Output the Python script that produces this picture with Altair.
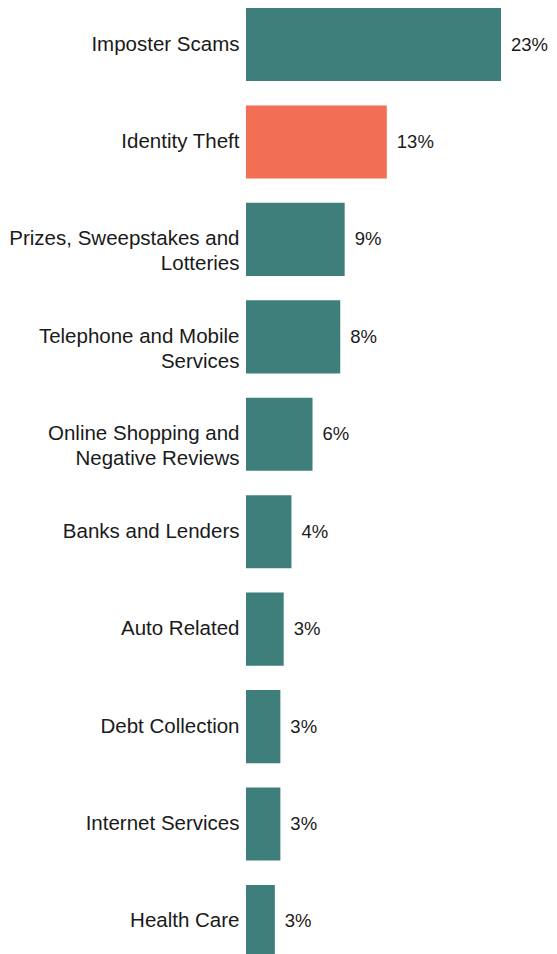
import altair as alt
import pandas as pd

categories = [
    "Imposter Scams",
    "Identity Theft",
    "Prizes, Sweepstakes and|Lotteries",
    "Telephone and Mobile|Services",
    "Online Shopping and|Negative Reviews",
    "Banks and Lenders",
    "Auto Related",
    "Debt Collection",
    "Internet Services",
    "Health Care",
]
values = [23.0, 12.7, 8.9, 8.5, 6.0, 4.1, 3.4, 3.1, 3.1, 2.6]
value_labels = ["23%", "13%", "9%", "8%", "6%", "4%", "3%", "3%", "3%", "3%"]
highlight = [False, True, False, False, False, False, False, False, False, False]

df = pd.DataFrame({
    "category": categories,
    "value": values,
    "label": value_labels,
    "highlight": highlight,
})

FONT = "Liberation Sans"
FS = 20.5

y_enc = alt.Y(
    "category:N",
    sort=None,
    scale=alt.Scale(paddingInner=0.25, paddingOuter=0),
    axis=alt.Axis(
        title=None, domain=False, ticks=False, labelPadding=7,
        labelFontSize=FS, labelFont=FONT, labelColor="#1a1a1a",
        labelLineHeight=25, labelLimit=300,
        labelExpr="split(datum.label, '|')",
    ),
)
x_enc = alt.X("value:Q", scale=alt.Scale(domain=[0, 27.33], nice=False), axis=None)

bars = alt.Chart(df).mark_bar().encode(
    y=y_enc,
    x=x_enc,
    color=alt.Color(
        "highlight:N",
        scale=alt.Scale(domain=[False, True], range=["#3e7f7c", "#f26e55"]),
        legend=None,
    ),
)

text = alt.Chart(df).mark_text(
    align="left", baseline="middle", dx=10, fontSize=18.5, font=FONT, color="#1a1a1a"
).encode(y=alt.Y("category:N", sort=None), x="value:Q", text="label:N")

chart = (bars + text).properties(
    width=303,
    height=950,
    autosize=alt.AutoSizeParams(type="none"),
    padding={"left": 238, "top": 0, "right": 0, "bottom": 0},
).configure_view(stroke=None)

chart.save("out.html", embed_options={"renderer": "svg", "actions": False})
